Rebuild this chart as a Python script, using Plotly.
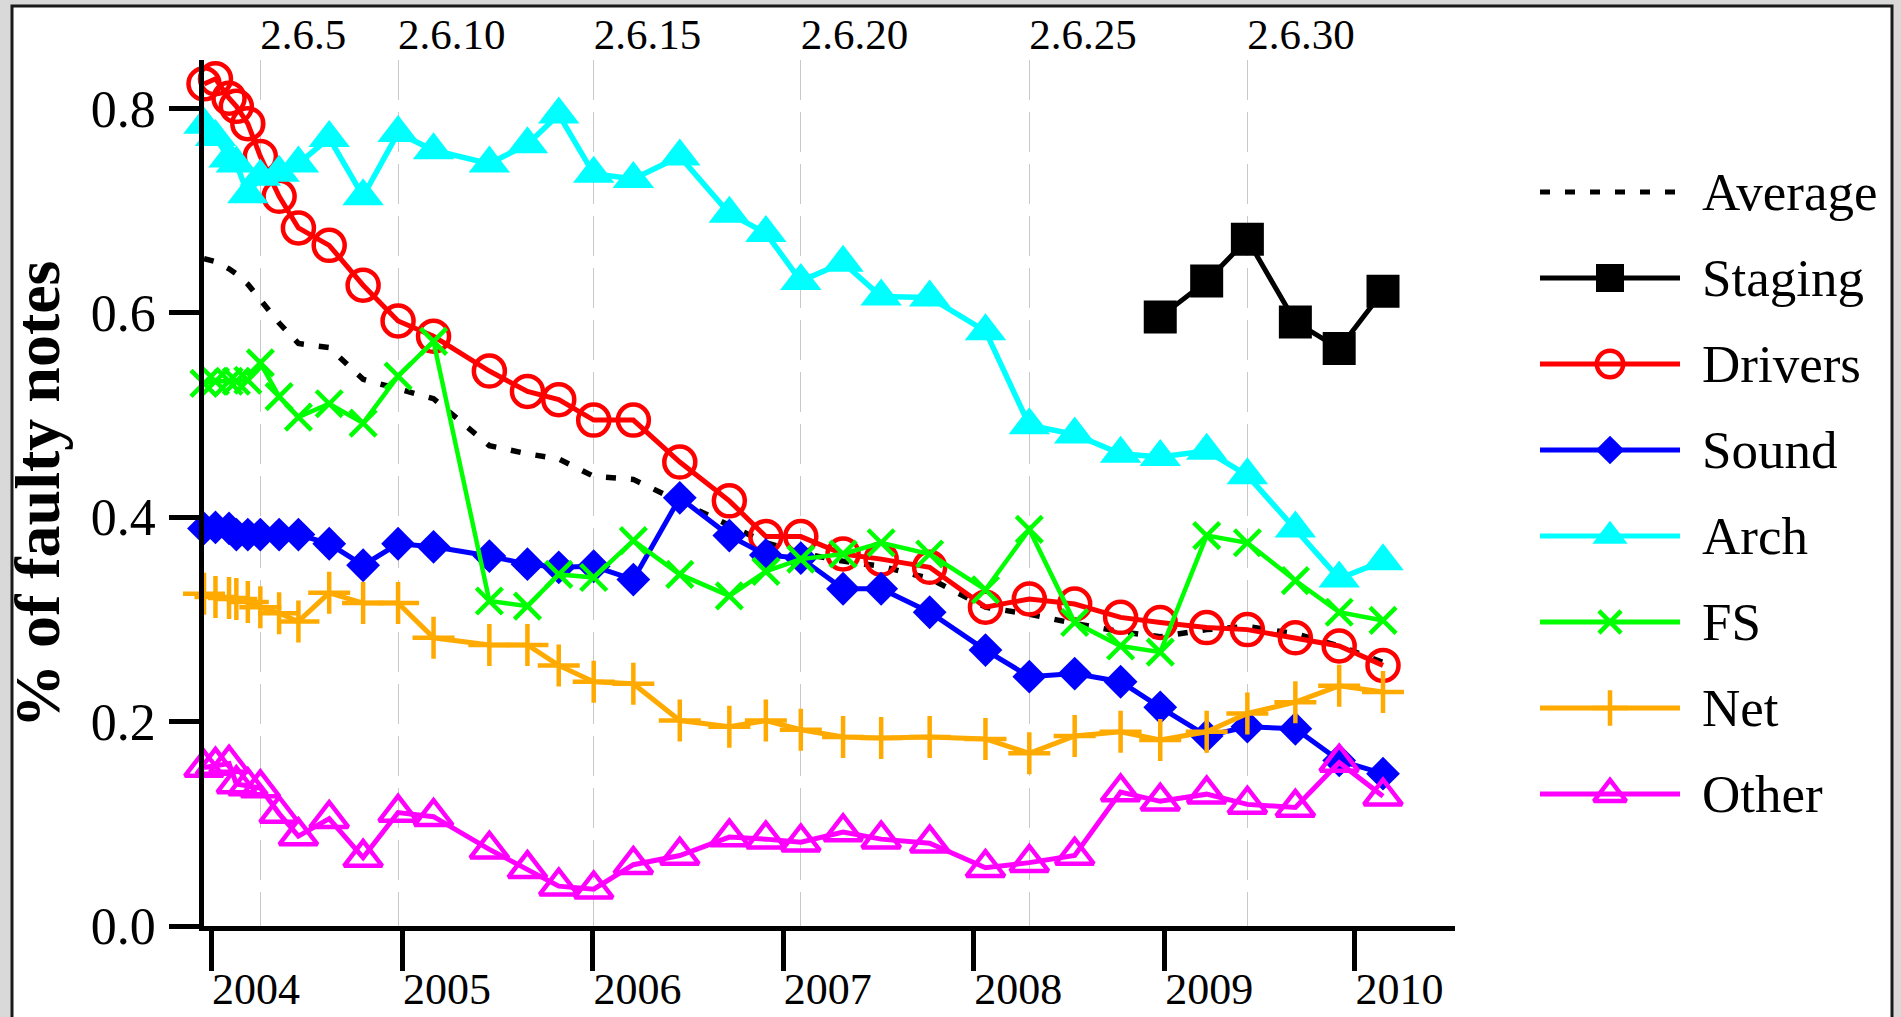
import plotly.graph_objects as go

# ---------------- data ----------------
versions = ["2.6.%d" % i for i in range(34)]
release_dates = ["2003-12-18", "2004-01-09", "2004-02-04", "2004-02-18", "2004-03-11",
                 "2004-04-04", "2004-05-10", "2004-06-16", "2004-08-14", "2004-10-18",
                 "2004-12-24", "2005-03-02", "2005-06-17", "2005-08-29", "2005-10-28",
                 "2006-01-03", "2006-03-20", "2006-06-17", "2006-09-20", "2006-11-29",
                 "2007-02-04", "2007-04-26", "2007-07-08", "2007-10-09", "2008-01-24",
                 "2008-04-17", "2008-07-13", "2008-10-09", "2008-12-24", "2009-03-23",
                 "2009-06-09", "2009-09-09", "2009-12-02", "2010-02-24"]

average = [0.653, 0.650, 0.643, 0.638, 0.628, 0.613, 0.590, 0.570, 0.566, 0.535,
           0.526, 0.516, 0.470, 0.462, 0.457, 0.440, 0.437, 0.415, 0.392, 0.375,
           0.365, 0.357, 0.352, 0.340, 0.312, 0.305, 0.296, 0.288, 0.283, 0.290,
           0.293, 0.286, 0.274, 0.258]
staging = [None] * 28 + [0.596, 0.631, 0.672, 0.591, 0.565, 0.621]
drivers = [0.824, 0.829, 0.810, 0.802, 0.785, 0.753, 0.714, 0.683, 0.666, 0.627,
           0.592, 0.577, 0.543, 0.523, 0.515, 0.495, 0.495, 0.454, 0.416, 0.381,
           0.381, 0.364, 0.359, 0.351, 0.312, 0.320, 0.315, 0.302, 0.297, 0.292,
           0.290, 0.282, 0.274, 0.255]
sound = [0.389, 0.390, 0.389, 0.383, 0.383, 0.383, 0.383, 0.383, 0.374, 0.353,
         0.374, 0.371, 0.362, 0.354, 0.351, 0.352, 0.339, 0.419, 0.382, 0.363,
         0.360, 0.330, 0.330, 0.307, 0.270, 0.244, 0.247, 0.239, 0.214, 0.186,
         0.195, 0.193, 0.162, 0.149]
arch = [0.784, 0.772, 0.751, 0.746, 0.716, 0.733, 0.737, 0.746, 0.771, 0.714,
        0.776, 0.759, 0.746, 0.765, 0.794, 0.736, 0.731, 0.753, 0.697, 0.678,
        0.631, 0.649, 0.616, 0.615, 0.582, 0.490, 0.481, 0.462, 0.459, 0.465,
        0.441, 0.389, 0.340, 0.357]
fs = [0.531, 0.533, 0.533, 0.533, 0.534, 0.551, 0.518, 0.498, 0.511, 0.492,
      0.538, 0.572, 0.318, 0.313, 0.344, 0.341, 0.377, 0.344, 0.323, 0.347,
      0.359, 0.364, 0.375, 0.364, 0.329, 0.388, 0.297, 0.274, 0.268, 0.382,
      0.375, 0.338, 0.307, 0.299]
net = [0.325, 0.322, 0.321, 0.320, 0.317, 0.312, 0.306, 0.298, 0.326, 0.316,
       0.316, 0.282, 0.275, 0.275, 0.255, 0.239, 0.237, 0.201, 0.195, 0.201,
       0.192, 0.185, 0.184, 0.185, 0.183, 0.169, 0.186, 0.190, 0.182, 0.190,
       0.208, 0.219, 0.235, 0.229]
other = [0.155, 0.157, 0.159, 0.139, 0.137, 0.135, 0.110, 0.088, 0.105, 0.067,
         0.111, 0.107, 0.075, 0.056, 0.039, 0.036, 0.060, 0.069, 0.087, 0.085,
         0.082, 0.092, 0.085, 0.081, 0.057, 0.062, 0.069, 0.131, 0.122, 0.129,
         0.119, 0.116, 0.160, 0.127]

year_ticks = ["2004-01-01", "2005-01-01", "2006-01-01", "2007-01-01",
              "2008-01-01", "2009-01-01", "2010-01-01"]
year_labels = ["2004", "2005", "2006", "2007", "2008", "2009", "2010"]
version_marks = ["2.6.5", "2.6.10", "2.6.15", "2.6.20", "2.6.25", "2.6.30"]
y_ticks = [0.0, 0.2, 0.4, 0.6, 0.8]
y_labels = ["0.0", "0.2", "0.4", "0.6", "0.8"]
y_title = "% of faulty notes"

# ---------------- styles ----------------
FONT = "Liberation Serif, Times New Roman, serif"
series = [
    dict(name="Average", y=average, color="black", symbol=None, size=0, dash="10px,15px", width=5.5, lw=0),
    dict(name="Staging", y=staging, color="black", symbol="square", size=33, dash="solid", width=5, lw=0),
    dict(name="Drivers", y=drivers, color="#ff0000", symbol="circle-open", size=31, dash="solid", width=5, lw=4.5),
    dict(name="Sound", y=sound, color="#0000ff", symbol="diamond", size=26, dash="solid", width=5, lw=0),
    dict(name="Arch", y=arch, color="#00ffff", symbol="triangle-up", size=36, dash="solid", width=5.5, lw=0),
    dict(name="FS", y=fs, color="#00ff00", symbol="x-thin", size=26, dash="solid", width=4.5, lw=4.5),
    dict(name="Net", y=net, color="#ffaa00", symbol="cross-thin", size=30, dash="solid", width=5, lw=4.5),
    dict(name="Other", y=other, color="#ff00ff", symbol="triangle-up-open", size=33, dash="solid", width=5, lw=4.5),
]

W, H = 1901, 1017
ML, MR, MT, MB = 204, 8, 60, 91
PW, PH = W - ML - MR, H - MT - MB
ax_right_px = 1455


def px_to_paper_x(px):
    return (px - ML) / PW


def px_to_paper_y(py):
    return (H - MB - py) / PH


fig = go.Figure()

version_dates = [release_dates[versions.index(v)] for v in version_marks]
x_range = [release_dates[0], "2010-07-12"]

for s in series:
    mode = "lines" if s["symbol"] is None else "lines+markers"
    kw = {}
    if s["symbol"] is not None:
        kw["marker"] = dict(symbol=s["symbol"], size=s["size"], color=s["color"],
                            line=dict(width=s["lw"], color=s["color"]))
    fig.add_trace(go.Scatter(
        x=release_dates, y=s["y"], name=s["name"], mode=mode,
        line=dict(color=s["color"], width=s["width"], dash=s["dash"]),
        cliponaxis=False, showlegend=False, connectgaps=False, **kw))

# ---------- hand-drawn legend on its own hidden axes ----------
row0, row_step = 192, 86
for i, s in enumerate(series):
    ry = row0 + row_step * i
    fig.add_trace(go.Scatter(
        x=[0, 1], y=[ry, ry], mode="lines", xaxis="x3", yaxis="y3",
        line=dict(color=s["color"], width=5, dash=s["dash"] if s["symbol"] is None else "solid"),
        showlegend=False, hoverinfo="skip", cliponaxis=False))
    if s["symbol"] is not None:
        fig.add_trace(go.Scatter(
            x=[0.5], y=[ry], mode="markers", xaxis="x3", yaxis="y3",
            marker=dict(symbol=s["symbol"], size=s["size"] * 0.85, color=s["color"],
                        line=dict(width=s["lw"], color=s["color"])),
            showlegend=False, hoverinfo="skip", cliponaxis=False))
    fig.add_annotation(x=px_to_paper_x(1700), xref="paper", y=ry, yref="y3",
                       text=s["name"], showarrow=False, xanchor="left", yanchor="middle",
                       font=dict(family=FONT, size=53, color="black"))

# y-axis title
fig.add_annotation(x=px_to_paper_x(38), xref="paper", y=px_to_paper_y(494), yref="paper",
                   text="<b>" + y_title + "</b>", textangle=-90, showarrow=False,
                   xanchor="center", yanchor="middle",
                   font=dict(family=FONT, size=64, color="black"))

# outer frame
fig.add_shape(type="rect", xref="paper", yref="paper",
              x0=px_to_paper_x(12), x1=px_to_paper_x(1892),
              y0=px_to_paper_y(1040), y1=px_to_paper_y(6),
              line=dict(color="#1a1a1a", width=3), fillcolor="white", layer="below")

dom_x = [0, px_to_paper_x(ax_right_px)]
fig.update_layout(
    width=W, height=H,
    margin=dict(l=ML, r=MR, t=MT, b=MB, autoexpand=False),
    paper_bgcolor="#d9d9d9", plot_bgcolor="white",
    showlegend=False,
    font=dict(family=FONT, color="black"),
    xaxis=dict(type="date", domain=dom_x, range=x_range, automargin=False,
               tickvals=year_ticks, ticktext=year_labels,
               ticks="outside", ticklen=40, tickwidth=4.5, tickcolor="black",
               ticklabelposition="outside right", ticklabelstandoff=20, ticklabelshift=-4,
               showline=True, linewidth=5, linecolor="black",
               showgrid=False, zeroline=False,
               tickfont=dict(family=FONT, size=44, color="black")),
    xaxis2=dict(type="date", domain=dom_x, range=x_range, overlaying="x", side="top",
                anchor="y", matches="x", automargin=False,
                tickvals=version_dates, ticktext=version_marks,
                ticks="", ticklabelposition="outside right", ticklabelstandoff=1,
                showline=False, zeroline=False,
                showgrid=True, gridcolor="#c8c8c8", gridwidth=1.3, griddash="40px,12px",
                tickfont=dict(family=FONT, size=43, color="black")),
    yaxis=dict(range=[0, PH / 1022.0], domain=[0, 1], automargin=False,
               tickvals=y_ticks, ticktext=y_labels,
               ticks="outside", ticklen=30, tickwidth=4.5, tickcolor="black",
               ticklabelstandoff=3,
               showline=True, linewidth=4.5, linecolor="black",
               showgrid=False, zeroline=False,
               tickfont=dict(family=FONT, size=52, color="black")),
    xaxis3=dict(domain=[px_to_paper_x(1540), px_to_paper_x(1680)], range=[0, 1],
                anchor="y3", visible=False, fixedrange=True, automargin=False),
    yaxis3=dict(domain=[0, 1], range=[H - MB, MT], anchor="x3", visible=False,
                fixedrange=True, automargin=False),
)

# a trace on the top axis so it is always drawn
fig.add_trace(go.Scatter(x=[release_dates[0]], y=[None], xaxis="x2", yaxis="y",
                         mode="markers", showlegend=False, hoverinfo="skip"))

# remove the browser's default 8px page margin so the figure fills the window
fig.write_html("out.html",
               config={"displayModeBar": False},
               post_script="document.body.style.margin='0px';"
                           "document.body.style.background='#d9d9d9';")
